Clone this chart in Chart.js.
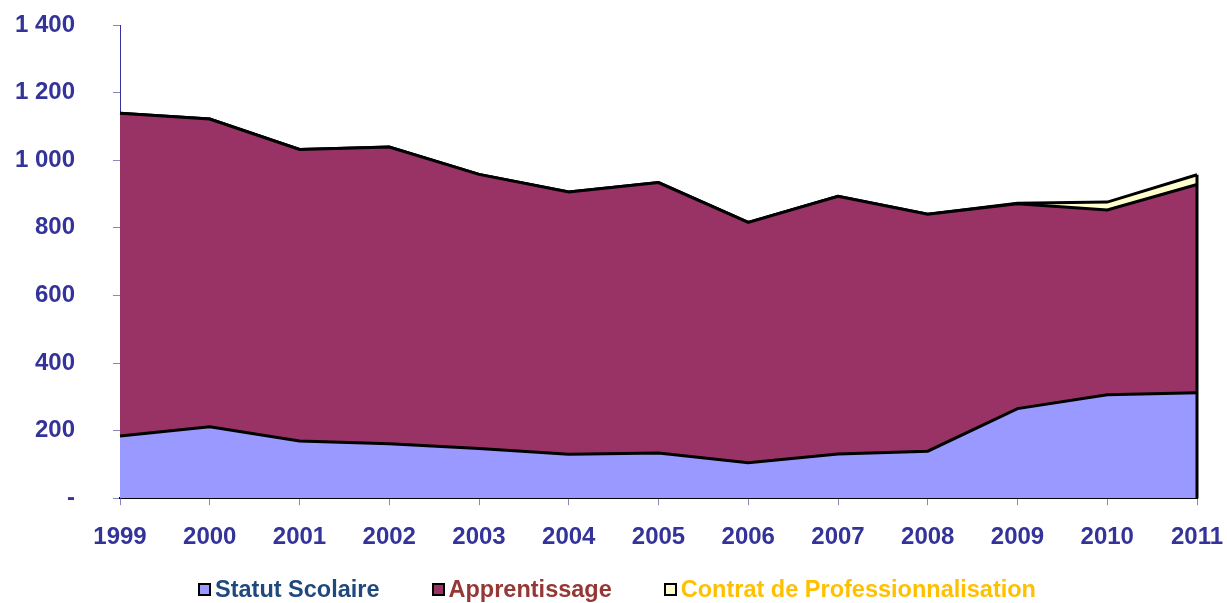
<!DOCTYPE html>
<html>
<head>
<meta charset="utf-8">
<script src="https://cdn.jsdelivr.net/npm/chart.js@4.4.0/dist/chart.umd.min.js"></script>
<style>
  html, body { margin: 0; padding: 0; background: #fff; }
  #wrap { position: relative; width: 1227px; height: 603px; }
  #legend {
    position: absolute; left: 198px; top: 576px;
    display: flex; align-items: center;
    font: bold 23.5px "Liberation Sans", Arial, sans-serif;
  }
  #legend .item { display: flex; align-items: center; margin-right: 52px; }
  #legend .box { width: 9px; height: 9px; border: 2px solid #000; margin-right: 4px; }
</style>
</head>
<body>
<div id="wrap">
  <canvas id="chart" width="1227" height="603"></canvas>
  <div id="legend"></div>
</div>
<script>
// Données
var annees = ['1999', '2000', '2001', '2002', '2003', '2004', '2005', '2006', '2007', '2008', '2009', '2010', '2011'];
var statutScolaire = [184, 211, 169, 161, 147, 130, 134, 105, 131, 139, 265, 306, 312];
var apprentissage = [955, 911, 863, 878, 811, 776, 800, 711, 762, 701, 606, 547, 616];
var contratPro = [0, 0, 0, 0, 0, 0, 0, 0, 0, 0, 2, 23, 29];

var series = [
  { label: 'Statut Scolaire', data: statutScolaire, fill: '#9999FF', text: '#1F497D' },
  { label: 'Apprentissage', data: apprentissage, fill: '#993366', text: '#953735' },
  { label: 'Contrat de Professionnalisation', data: contratPro, fill: '#FFFFCC', text: '#FFC000' }
];

var bleu = '#333399';
var police = '"Liberation Sans", Arial, sans-serif';

// Bord droit de la zone (trait noir vertical)
var bordDroit = {
  id: 'bordDroit',
  afterDatasetsDraw: function(chart) {
    var x = chart.scales.x, y = chart.scales.y;
    var last = annees.length - 1;
    var total = statutScolaire[last] + apprentissage[last] + contratPro[last];
    var ctx = chart.ctx;
    ctx.save();
    ctx.strokeStyle = '#000';
    ctx.lineWidth = 3;
    ctx.beginPath();
    ctx.moveTo(x.getPixelForValue(last), y.getPixelForValue(0));
    ctx.lineTo(x.getPixelForValue(last), y.getPixelForValue(total));
    ctx.stroke();
    ctx.restore();
  }
};

new Chart(document.getElementById('chart'), {
  type: 'line',
  data: {
    labels: annees,
    datasets: series.map(function(s, i) {
      return {
        label: s.label,
        data: s.data,
        backgroundColor: s.fill,
        borderColor: '#000',
        borderWidth: 3,
        pointRadius: 0,
        tension: 0,
        fill: i === 0 ? 'origin' : '-1'
      };
    })
  },
  options: {
    responsive: false,
    animation: false,
    layout: { padding: { top: 25, right: 30, bottom: 33, left: 0 } },
    plugins: {
      legend: { display: false },
      tooltip: { enabled: false }
    },
    scales: {
      x: {
        offset: false,
        afterFit: function(scale) { scale.paddingLeft = 0; scale.paddingRight = 0; },
        grid: { drawOnChartArea: false, tickLength: 7, color: '#8888BB' },
        border: { color: '#000', width: 2 },
        ticks: {
          color: bleu,
          padding: 18,
          maxRotation: 0,
          font: { family: police, size: 24, weight: 'bold' }
        }
      },
      y: {
        stacked: true,
        min: 0,
        max: 1400,
        afterFit: function(scale) {
          scale.width = 120;
          scale.paddingTop = 0;
          scale.paddingBottom = 0;
        },
        grid: { drawOnChartArea: false, tickLength: 7, color: '#8888BB' },
        border: { color: bleu, width: 1 },
        ticks: {
          stepSize: 200,
          color: bleu,
          padding: 38,
          font: { family: police, size: 24, weight: 'bold' },
          callback: function(v) {
            if (v === 0) return '-';
            return v.toString().replace(/\B(?=(\d{3})+(?!\d))/g, ' ');
          }
        }
      }
    }
  },
  plugins: [bordDroit]
});

// Légende
var legend = document.getElementById('legend');
series.forEach(function(s) {
  var item = document.createElement('div');
  item.className = 'item';
  var box = document.createElement('span');
  box.className = 'box';
  box.style.background = s.fill;
  var txt = document.createElement('span');
  txt.textContent = s.label;
  txt.style.color = s.text;
  item.appendChild(box);
  item.appendChild(txt);
  legend.appendChild(item);
});
</script>
</body>
</html>
